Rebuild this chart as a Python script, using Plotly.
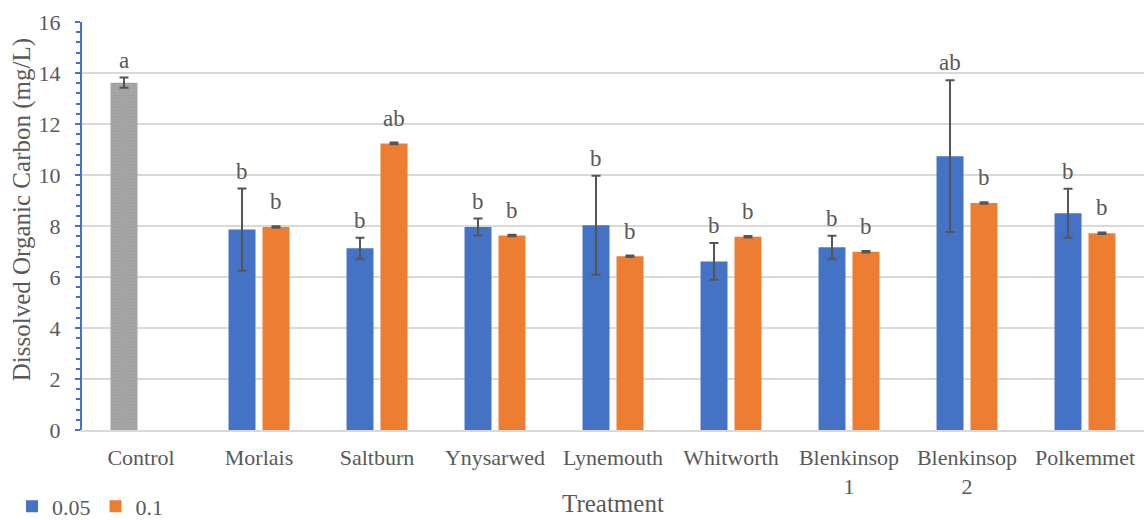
import plotly.graph_objects as go

# Treatments on the x axis (multi-line labels where the site name wraps)
treatments = ["Control", "Morlais", "Saltburn", "Ynysarwed", "Lynemouth",
              "Whitworth", "Blenkinsop<br>1", "Blenkinsop<br>2", "Polkemmet"]

# Dissolved organic carbon (mg/L), mean and error for the untreated control
control_doc = [13.62]
control_err = [0.20]

# Dose 0.05 and 0.1 for each site (no dosed values for the control)
doc_005 = [None, 7.86, 7.13, 7.96, 8.03, 6.61, 7.17, 10.74, 8.50]
err_005 = [None, 1.61, 0.41, 0.33, 1.94, 0.72, 0.45, 2.98, 0.96]
doc_01 = [None, 7.96, 11.24, 7.63, 6.81, 7.58, 6.99, 8.90, 7.72]
err_01 = [None, 0.03, 0.03, 0.03, 0.03, 0.03, 0.03, 0.03, 0.03]

# Significance letters above each bar
control_sig = ["a"]
sig_005 = ["", "b", "b", "b", "b", "b", "b", "ab", "b"]
sig_01 = ["", "b", "ab", "b", "b", "b", "b", "b", "b"]

BLUE = "#4472C4"
ORANGE = "#ED7D31"
GREY = "#A5A5A5"
TEXT = "#595959"
FONT = "Liberation Serif"

err_style = dict(type="data", visible=True, color="#555555", thickness=2, width=4.5)

fig = go.Figure()
# Control shares the dose-0.05 slot so it sits left of the category centre
fig.add_trace(go.Bar(
    name="Control", x=treatments[:1], y=control_doc, offsetgroup="low",
    showlegend=False,
    marker=dict(color=GREY, line=dict(width=0),
                pattern=dict(shape=".", fgcolor="#929292", size=3, solidity=0.2)),
    error_y=dict(array=control_err, **err_style),
))
fig.add_trace(go.Bar(
    name="0.05", x=treatments, y=doc_005, offsetgroup="low",
    marker=dict(color=BLUE, line=dict(width=0)),
    error_y=dict(array=err_005, **err_style),
))
fig.add_trace(go.Bar(
    name="0.1", x=treatments, y=doc_01, offsetgroup="high",
    marker=dict(color=ORANGE, line=dict(width=0)),
    error_y=dict(array=err_01, **err_style),
))

label_font = dict(family=FONT, size=23, color=TEXT)
annotations = []
groups = ((control_doc, control_err, control_sig, -17, 3),
          (doc_005, err_005, sig_005, -17, 3),
          (doc_01, err_01, sig_01, 17, 10))
for vals, errs, sig, dx, lift in groups:
    for i, v in enumerate(vals):
        if v is None or not sig[i]:
            continue
        annotations.append(dict(
            x=treatments[i], y=v + errs[i], xref="x", yref="y",
            text=sig[i], showarrow=False, xshift=dx, yshift=lift,
            yanchor="bottom", font=label_font,
        ))

# Axis titles
annotations.append(dict(
    text="Treatment", xref="paper", yref="paper", x=0.5, y=-0.179,
    xanchor="center", yanchor="middle", showarrow=False,
    font=dict(family=FONT, size=25, color=TEXT),
))
annotations.append(dict(
    text="Dissolved Organic Carbon (mg/L)", xref="paper", yref="paper",
    x=-0.0564, y=0.539, textangle=-90, xanchor="center", yanchor="middle",
    showarrow=False, font=dict(family=FONT, size=25, color=TEXT),
))

fig.update_layout(
    width=1145, height=520,
    margin=dict(l=82, r=1, t=22, b=90, autoexpand=False),
    paper_bgcolor="white", plot_bgcolor="white",
    barmode="group", bargap=0.424, bargroupgap=0.206,
    font=dict(family=FONT, color=TEXT, size=22),
    showlegend=True,
    legend=dict(orientation="h", xref="container", yref="container",
                x=0.0105, y=0.026, xanchor="left", yanchor="middle",
                font=dict(size=22, color=TEXT), traceorder="normal",
                itemwidth=30, bgcolor="rgba(0,0,0,0)"),
    annotations=annotations,
)
fig.update_xaxes(
    showline=True, linecolor="#D9D9D9", linewidth=1.5, automargin=False,
    ticks="", tickfont=dict(size=22, color=TEXT), ticklabelstandoff=7,
)
fig.update_yaxes(
    range=[0, 16], dtick=2, automargin=False,
    showgrid=True, gridcolor="#D9D9D9", gridwidth=1.5,
    showline=True, linecolor=BLUE, linewidth=2,
    ticks="outside", ticklen=5, tickcolor=BLUE, tickwidth=2,
    minor=dict(dtick=0.4, ticks="outside", ticklen=4, tickcolor=BLUE,
               tickwidth=2, showgrid=False),
    tickfont=dict(size=22, color=TEXT), ticklabelstandoff=10,
    zeroline=False,
)

fig.write_html("out.html")
